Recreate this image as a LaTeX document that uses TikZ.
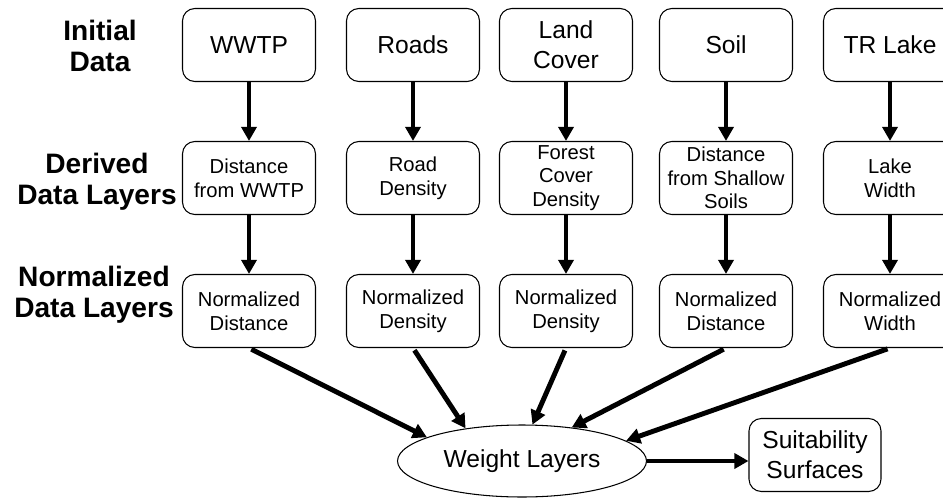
\documentclass[tikz,border=0pt]{standalone}
\usepackage{fontspec}
\setmainfont{Liberation Sans}
\usetikzlibrary{arrows.meta,shapes.geometric}

\tikzset{
  databox/.style={draw, rounded corners=7pt, line width=0.6pt, align=center,
    minimum width=2.66cm, minimum height=1.46cm, inner sep=1pt},
  bigtext/.style={font=\fontsize{14}{17}\selectfont},
  smalltext/.style={font=\fontsize{11.5}{13.5}\selectfont},
  rowlabel/.style={align=center, font=\fontsize{16}{17.5}\selectfont\bfseries},
  flow/.style={line width=2.8pt, -{Triangle[length=8pt,width=8.5pt]}},
}

\begin{document}
\begin{tikzpicture}[x=0.02cm, y=-0.02cm]
    \def\ya{45}
    \def\yb{178}
    \def\yc{311}
    \def\ca{249}
    \def\cb{413}
    \def\cc{566}
    \def\cd{726}
    \def\ce{890}
    \useasboundingbox (0,0) rectangle (943,497);

    % row labels
    \node[rowlabel] (linit) at (100,46) {Initial\\Data};
    \node[rowlabel] (lderiv) at (97,182) {Derived\\Data Layers};
    \node[rowlabel] (lnorm) at (94,295) {Normalized\\Data Layers};

    % initial data
    \node[databox, bigtext] (wwtp) at (\ca,\ya) {WWTP};
    \node[databox, bigtext] (roads) at (\cb,\ya) {Roads};
    \node[databox, bigtext] (land) at (\cc,\ya) {Land\\Cover};
    \node[databox, bigtext] (soil) at (\cd,\ya) {Soil};
    \node[databox, bigtext] (lake) at (\ce,\ya) {TR Lake};

    % derived layers
    \node[databox, smalltext] (dwwtp) at (\ca,\yb) {Distance\\from WWTP};
    \node[databox, smalltext] (rdens) at (\cb,\yb) {Road\\Density};
    \node[databox, smalltext] (fdens) at (\cc,\yb) {Forest\\Cover\\Density};
    \node[databox, smalltext] (dsoil) at (\cd,\yb) {Distance\\from Shallow\\Soils};
    \node[databox, smalltext] (lwidth) at (\ce,\yb) {Lake\\Width};

    % normalized layers
    \node[databox, smalltext] (ndist) at (\ca,\yc) {Normalized\\Distance};
    \node[databox, smalltext] (nrdens) at (\cb,\yc) {Normalized\\Density};
    \node[databox, smalltext] (nfdens) at (\cc,\yc) {Normalized\\Density};
    \node[databox, smalltext] (nsoil) at (\cd,\yc) {Normalized\\Distance};
    \node[databox, smalltext] (nwidth) at (\ce,\yc) {Normalized\\Width};

    % result
    \node[draw, ellipse, line width=0.6pt, bigtext, minimum width=4.98cm,
      minimum height=1.44cm, inner sep=0pt] (weight) at (522,461) {Weight Layers};
    \node[databox, bigtext, minimum width=2.64cm] (suit) at (815,455) {Suitability\\Surfaces};

    % arrows down
    \draw[flow] (wwtp) -- (dwwtp);
    \draw[flow] (roads) -- (rdens);
    \draw[flow] (land) -- (fdens);
    \draw[flow] (soil) -- (dsoil);
    \draw[flow] (lake) -- (lwidth);
    \draw[flow] (dwwtp) -- (ndist);
    \draw[flow] (rdens) -- (nrdens);
    \draw[flow] (fdens) -- (nfdens);
    \draw[flow] (dsoil) -- (nsoil);
    \draw[flow] (lwidth) -- (nwidth);

    % into the weights
    \draw[flow, shorten <=1.5pt] (ndist.south) -- (weight.166);
    \draw[flow, shorten <=1.5pt] (nrdens.south) -- (weight.150);
    \draw[flow, shorten <=1.5pt] (nfdens.south) -- (weight.74);
    \draw[flow, shorten <=1.5pt] (nsoil.south) -- (weight.34);
    \draw[flow, shorten <=1.5pt] (nwidth.south) -- (weight.11);
    \draw[flow] (weight.east) -- (weight.east -| suit.west);
\end{tikzpicture}
\end{document}
